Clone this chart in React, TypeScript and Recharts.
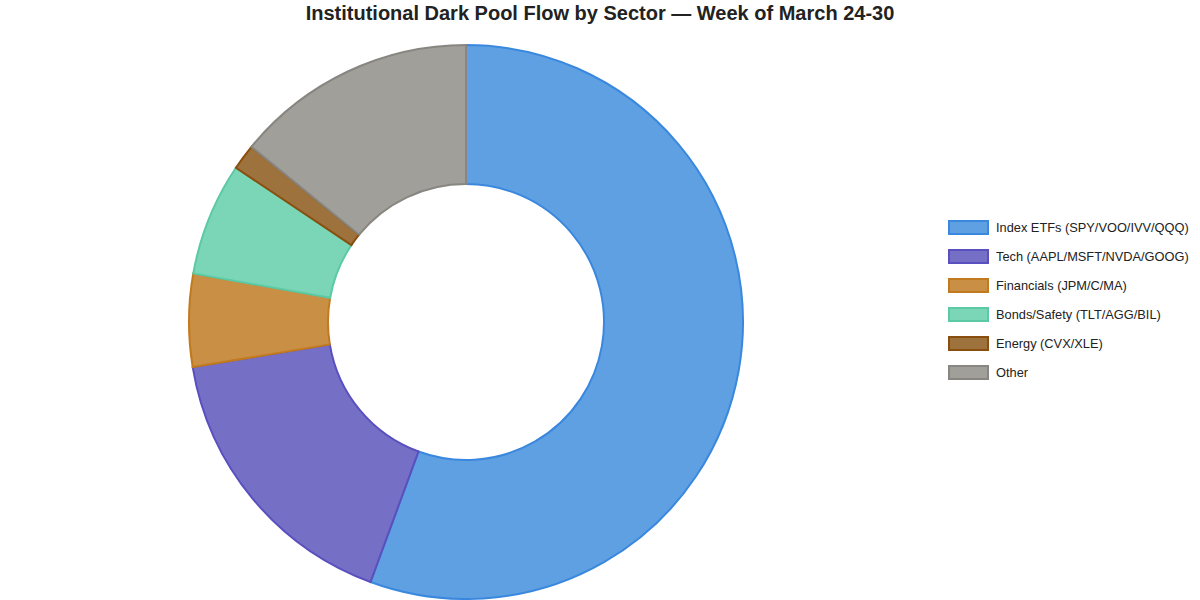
import React from 'react';
import { PieChart, Pie, Cell } from 'recharts';

// Sector share of dark pool flow (%)
const sectors = [
  'Index ETFs (SPY/VOO/IVV/QQQ)',
  'Tech (AAPL/MSFT/NVDA/GOOG)',
  'Financials (JPM/C/MA)',
  'Bonds/Safety (TLT/AGG/BIL)',
  'Energy (CVX/XLE)',
  'Other',
];
const shares = [55.6, 16.8, 5.4, 6.6, 1.5, 14.1];

const FILLS = ['#5fa0e3', '#7570c5', '#c98f45', '#7ad6b6', '#9e723c', '#a09f9a'];
const STROKES = ['#3a88de', '#5a4fbf', '#c27a1f', '#5cc9a5', '#8a4f0f', '#878680'];

const data = sectors.map((name, i) => ({ name, value: shares[i] }));

const FONT = '"Liberation Sans", Arial, Helvetica, sans-serif';

function LegendBox() {
  return (
    <div style={{ position: 'absolute', left: 948, top: 213, fontFamily: FONT, fontSize: 12.8, color: '#222' }}>
      {sectors.map((name, i) => (
        <div key={name} style={{ display: 'flex', alignItems: 'center', height: 29 }}>
          <div
            style={{
              width: 37,
              height: 11,
              background: FILLS[i],
              border: `2px solid ${STROKES[i]}`,
              marginRight: 7,
            }}
          />
          <span>{name}</span>
        </div>
      ))}
    </div>
  );
}

export default function App() {
  return (
    <div style={{ position: 'absolute', left: 0, top: 0, width: 1200, height: 600, background: '#fff' }}>
      <PieChart width={1200} height={600} margin={{ top: 0, right: 0, bottom: 0, left: 0 }}>
        <Pie
          data={data}
          dataKey="value"
          nameKey="name"
          cx={466}
          cy={322}
          innerRadius={138}
          outerRadius={277}
          startAngle={90}
          endAngle={-270}
          isAnimationActive={false}
        >
          {data.map((entry, i) => (
            <Cell key={entry.name} fill={FILLS[i]} stroke={STROKES[i]} strokeWidth={2} />
          ))}
        </Pie>
      </PieChart>
      <div
        style={{
          position: 'absolute',
          top: 2,
          left: 0,
          width: 1200,
          textAlign: 'center',
          fontFamily: FONT,
          fontWeight: 'bold',
          fontSize: 20,
          color: '#222',
        }}
      >
        Institutional Dark Pool Flow by Sector — Week of March 24-30
      </div>
      <LegendBox />
    </div>
  );
}
